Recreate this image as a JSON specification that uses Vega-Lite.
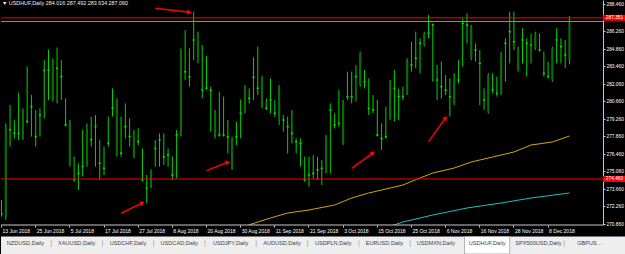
{
  "$schema": "https://vega.github.io/schema/vega-lite/v6.json",
  "padding": 0,
  "background": "#000000",
  "bounds": "flush",
  "spacing": 11.5,
  "resolve": {"scale": {"x": "independent", "y": "independent"}},
  "config": {
    "view": {"stroke": null},
    "font": "Liberation Sans",
    "axis": {"labelFont": "Liberation Sans", "labelColor": "#ffffff", "tickColor": "#c8c8c8", "domainColor": "#c8c8c8", "grid": false, "tickSize": 2, "labelPadding": 1, "labelOverlap": false}
  },
  "datasets": {
    "bars": [
      {"d":"13 Jun 2018","o":271.72,"h":272.78,"l":271.45,"c":271.6},
      {"d":"14 Jun 2018","o":271.45,"h":278.91,"l":271.18,"c":278.65},
      {"d":"15 Jun 2018","o":278.45,"h":280.38,"l":277.05,"c":278.33},
      {"d":"18 Jun 2018","o":278.2,"h":279.18,"l":277.71,"c":278.08},
      {"d":"19 Jun 2018","o":278.15,"h":281.37,"l":277.58,"c":278.03},
      {"d":"20 Jun 2018","o":277.71,"h":280.11,"l":277.58,"c":279.98},
      {"d":"21 Jun 2018","o":279.12,"h":283.45,"l":278.91,"c":279.0},
      {"d":"22 Jun 2018","o":280.3,"h":281.18,"l":277.85,"c":280.18},
      {"d":"25 Jun 2018","o":277.92,"h":279.98,"l":277.05,"c":277.8},
      {"d":"26 Jun 2018","o":279.62,"h":280.11,"l":277.85,"c":279.5},
      {"d":"27 Jun 2018","o":283.2,"h":283.98,"l":279.31,"c":283.08},
      {"d":"28 Jun 2018","o":283.25,"h":284.83,"l":280.78,"c":283.1},
      {"d":"29 Jun 2018","o":280.78,"h":284.11,"l":280.65,"c":283.98},
      {"d":"2 Jul 2018","o":283.37,"h":284.99,"l":280.51,"c":283.25},
      {"d":"3 Jul 2018","o":282.72,"h":283.98,"l":280.78,"c":282.6},
      {"d":"4 Jul 2018","o":278.87,"h":280.91,"l":278.65,"c":278.75},
      {"d":"5 Jul 2018","o":275.6,"h":279.18,"l":275.45,"c":279.05},
      {"d":"6 Jul 2018","o":274.45,"h":276.25,"l":274.25,"c":274.33},
      {"d":"9 Jul 2018","o":274.97,"h":275.71,"l":273.58,"c":274.85},
      {"d":"10 Jul 2018","o":275.52,"h":278.38,"l":274.65,"c":275.4},
      {"d":"11 Jul 2018","o":275.6,"h":278.91,"l":275.45,"c":278.51},
      {"d":"12 Jul 2018","o":277.67,"h":279.45,"l":277.05,"c":277.55},
      {"d":"13 Jul 2018","o":278.72,"h":279.58,"l":275.45,"c":278.6},
      {"d":"16 Jul 2018","o":275.78,"h":277.58,"l":274.38,"c":275.66},
      {"d":"17 Jul 2018","o":275.38,"h":277.05,"l":274.78,"c":275.26},
      {"d":"18 Jul 2018","o":277.38,"h":279.45,"l":277.05,"c":277.26},
      {"d":"19 Jul 2018","o":280.18,"h":281.71,"l":279.45,"c":280.06},
      {"d":"20 Jul 2018","o":276.38,"h":280.91,"l":276.25,"c":280.78},
      {"d":"23 Jul 2018","o":276.58,"h":279.45,"l":276.25,"c":276.46},
      {"d":"24 Jul 2018","o":278.72,"h":280.51,"l":277.71,"c":278.6},
      {"d":"25 Jul 2018","o":277.92,"h":279.31,"l":277.05,"c":277.8},
      {"d":"26 Jul 2018","o":276.25,"h":278.38,"l":276.11,"c":278.25},
      {"d":"27 Jul 2018","o":277.52,"h":278.51,"l":277.18,"c":277.4},
      {"d":"30 Jul 2018","o":274.45,"h":276.91,"l":274.25,"c":274.33},
      {"d":"31 Jul 2018","o":273.78,"h":274.78,"l":272.51,"c":273.66},
      {"d":"1 Aug 2018","o":273.8,"h":275.23,"l":273.71,"c":275.1},
      {"d":"2 Aug 2018","o":276.97,"h":277.58,"l":275.45,"c":276.85},
      {"d":"3 Aug 2018","o":277.64,"h":278.11,"l":275.45,"c":277.52},
      {"d":"6 Aug 2018","o":276.3,"h":278.11,"l":275.58,"c":276.18},
      {"d":"7 Aug 2018","o":276.44,"h":276.91,"l":275.45,"c":276.32},
      {"d":"8 Aug 2018","o":274.84,"h":276.25,"l":274.38,"c":274.72},
      {"d":"9 Aug 2018","o":278.04,"h":278.38,"l":274.51,"c":277.92},
      {"d":"10 Aug 2018","o":277.98,"h":284.91,"l":277.85,"c":284.7},
      {"d":"13 Aug 2018","o":283.1,"h":286.38,"l":282.38,"c":282.98},
      {"d":"14 Aug 2018","o":282.7,"h":284.91,"l":281.85,"c":282.58},
      {"d":"15 Aug 2018","o":285.64,"h":287.85,"l":283.98,"c":285.52},
      {"d":"16 Aug 2018","o":284.11,"h":286.25,"l":283.71,"c":286.11},
      {"d":"17 Aug 2018","o":281.64,"h":285.18,"l":280.91,"c":281.52},
      {"d":"20 Aug 2018","o":281.78,"h":284.3,"l":281.58,"c":281.66},
      {"d":"21 Aug 2018","o":281.62,"h":281.85,"l":278.25,"c":281.5},
      {"d":"22 Aug 2018","o":277.85,"h":279.98,"l":277.71,"c":279.9},
      {"d":"23 Aug 2018","o":278.04,"h":281.45,"l":277.85,"c":277.92},
      {"d":"24 Aug 2018","o":278.04,"h":281.05,"l":277.85,"c":277.92},
      {"d":"27 Aug 2018","o":277.9,"h":279.18,"l":276.51,"c":277.78},
      {"d":"28 Aug 2018","o":275.3,"h":277.85,"l":275.18,"c":277.7},
      {"d":"29 Aug 2018","o":277.9,"h":279.05,"l":277.18,"c":277.78},
      {"d":"30 Aug 2018","o":279.77,"h":280.83,"l":277.71,"c":279.65},
      {"d":"31 Aug 2018","o":279.8,"h":281.98,"l":279.71,"c":281.9},
      {"d":"3 Sep 2018","o":280.97,"h":281.71,"l":280.51,"c":280.85},
      {"d":"4 Sep 2018","o":282.66,"h":284.19,"l":280.78,"c":282.54},
      {"d":"5 Sep 2018","o":281.78,"h":285.05,"l":281.18,"c":281.66},
      {"d":"6 Sep 2018","o":280.25,"h":282.7,"l":280.11,"c":282.6},
      {"d":"7 Sep 2018","o":280.17,"h":280.91,"l":279.98,"c":280.05},
      {"d":"10 Sep 2018","o":280.84,"h":282.51,"l":279.71,"c":280.72},
      {"d":"11 Sep 2018","o":279.78,"h":280.78,"l":279.45,"c":279.66},
      {"d":"12 Sep 2018","o":279.31,"h":281.98,"l":278.78,"c":281.85},
      {"d":"13 Sep 2018","o":279.24,"h":279.58,"l":278.25,"c":279.12},
      {"d":"14 Sep 2018","o":278.71,"h":279.45,"l":276.51,"c":278.59},
      {"d":"17 Sep 2018","o":278.17,"h":279.98,"l":277.31,"c":278.05},
      {"d":"18 Sep 2018","o":277.51,"h":277.71,"l":276.51,"c":277.39},
      {"d":"19 Sep 2018","o":277.37,"h":277.71,"l":275.45,"c":277.25},
      {"d":"20 Sep 2018","o":274.44,"h":276.25,"l":274.25,"c":274.32},
      {"d":"21 Sep 2018","o":274.84,"h":276.25,"l":273.85,"c":274.72},
      {"d":"24 Sep 2018","o":274.97,"h":276.38,"l":274.51,"c":274.85},
      {"d":"25 Sep 2018","o":275.24,"h":276.25,"l":274.38,"c":275.12},
      {"d":"26 Sep 2018","o":275.37,"h":275.98,"l":273.98,"c":275.25},
      {"d":"27 Sep 2018","o":275.1,"h":277.98,"l":274.91,"c":277.85},
      {"d":"28 Sep 2018","o":280.04,"h":280.51,"l":274.91,"c":279.92},
      {"d":"1 Oct 2018","o":278.84,"h":279.71,"l":278.51,"c":278.72},
      {"d":"2 Oct 2018","o":278.97,"h":281.58,"l":278.65,"c":278.85},
      {"d":"3 Oct 2018","o":277.3,"h":280.78,"l":277.18,"c":280.65},
      {"d":"4 Oct 2018","o":281.1,"h":283.05,"l":280.78,"c":280.98},
      {"d":"5 Oct 2018","o":281.1,"h":283.05,"l":280.51,"c":280.98},
      {"d":"8 Oct 2018","o":282.71,"h":283.58,"l":280.65,"c":282.59},
      {"d":"9 Oct 2018","o":282.0,"h":284.65,"l":281.85,"c":284.55},
      {"d":"10 Oct 2018","o":282.31,"h":283.18,"l":281.71,"c":282.19},
      {"d":"11 Oct 2018","o":280.17,"h":282.51,"l":279.58,"c":280.05},
      {"d":"12 Oct 2018","o":280.04,"h":281.18,"l":279.71,"c":279.92},
      {"d":"15 Oct 2018","o":278.04,"h":280.78,"l":277.85,"c":277.92},
      {"d":"16 Oct 2018","o":277.77,"h":278.91,"l":276.78,"c":277.65},
      {"d":"17 Oct 2018","o":277.9,"h":280.25,"l":277.71,"c":277.78},
      {"d":"18 Oct 2018","o":279.3,"h":282.38,"l":279.18,"c":282.25},
      {"d":"19 Oct 2018","o":281.77,"h":283.18,"l":279.05,"c":281.65},
      {"d":"22 Oct 2018","o":281.11,"h":281.71,"l":279.18,"c":280.99},
      {"d":"23 Oct 2018","o":281.11,"h":281.85,"l":280.78,"c":280.99},
      {"d":"24 Oct 2018","o":281.3,"h":284.11,"l":281.18,"c":283.98},
      {"d":"25 Oct 2018","o":283.64,"h":285.45,"l":283.05,"c":283.52},
      {"d":"26 Oct 2018","o":284.17,"h":286.25,"l":283.31,"c":284.05},
      {"d":"29 Oct 2018","o":285.37,"h":285.71,"l":282.91,"c":285.25},
      {"d":"30 Oct 2018","o":285.15,"h":286.25,"l":285.05,"c":286.1},
      {"d":"31 Oct 2018","o":286.17,"h":287.58,"l":285.71,"c":286.05},
      {"d":"1 Nov 2018","o":286.84,"h":286.91,"l":282.25,"c":286.72},
      {"d":"2 Nov 2018","o":282.44,"h":283.58,"l":280.78,"c":282.32},
      {"d":"5 Nov 2018","o":281.91,"h":283.85,"l":280.91,"c":281.79},
      {"d":"6 Nov 2018","o":281.64,"h":282.78,"l":281.18,"c":281.52},
      {"d":"7 Nov 2018","o":281.11,"h":282.51,"l":279.45,"c":280.99},
      {"d":"8 Nov 2018","o":280.5,"h":282.91,"l":280.38,"c":282.25},
      {"d":"9 Nov 2018","o":282.44,"h":283.98,"l":282.11,"c":282.32},
      {"d":"12 Nov 2018","o":286.97,"h":287.31,"l":283.45,"c":286.85},
      {"d":"13 Nov 2018","o":286.84,"h":287.71,"l":285.31,"c":286.72},
      {"d":"14 Nov 2018","o":284.1,"h":286.78,"l":283.98,"c":286.65},
      {"d":"15 Nov 2018","o":284.84,"h":285.31,"l":283.85,"c":284.72},
      {"d":"16 Nov 2018","o":283.77,"h":284.78,"l":280.38,"c":283.65},
      {"d":"19 Nov 2018","o":280.84,"h":281.71,"l":279.98,"c":280.72},
      {"d":"20 Nov 2018","o":279.85,"h":282.91,"l":279.71,"c":282.8},
      {"d":"21 Nov 2018","o":281.64,"h":282.91,"l":281.31,"c":281.52},
      {"d":"22 Nov 2018","o":281.37,"h":282.65,"l":281.05,"c":281.25},
      {"d":"23 Nov 2018","o":281.3,"h":284.65,"l":281.18,"c":284.55},
      {"d":"26 Nov 2018","o":285.37,"h":285.71,"l":282.25,"c":285.25},
      {"d":"27 Nov 2018","o":286.31,"h":287.85,"l":283.71,"c":286.19},
      {"d":"28 Nov 2018","o":285.51,"h":287.85,"l":284.78,"c":285.39},
      {"d":"29 Nov 2018","o":283.18,"h":285.05,"l":283.05,"c":284.95},
      {"d":"30 Nov 2018","o":285.64,"h":286.51,"l":283.71,"c":285.52},
      {"d":"3 Dec 2018","o":285.37,"h":285.71,"l":282.65,"c":285.25},
      {"d":"4 Dec 2018","o":285.24,"h":286.11,"l":283.71,"c":285.12},
      {"d":"5 Dec 2018","o":284.9,"h":286.25,"l":284.78,"c":286.1},
      {"d":"6 Dec 2018","o":284.84,"h":286.11,"l":284.65,"c":284.72},
      {"d":"7 Dec 2018","o":282.97,"h":284.65,"l":282.65,"c":282.85},
      {"d":"8 Dec 2018","o":282.71,"h":283.85,"l":282.51,"c":282.59},
      {"d":"10 Dec 2018","o":282.4,"h":285.05,"l":282.25,"c":284.95},
      {"d":"11 Dec 2018","o":285.64,"h":286.51,"l":283.71,"c":285.52},
      {"d":"12 Dec 2018","o":285.11,"h":285.71,"l":283.71,"c":284.99},
      {"d":"13 Dec 2018","o":284.44,"h":285.58,"l":283.31,"c":284.32},
      {"d":"14 Dec 2018","o":284.016,"h":287.492,"l":283.634,"c":287.06}
    ],
    "ma": [
      {"d":"31 Aug 2018","s":"MA1","v":270.6},
      {"d":"3 Sep 2018","s":"MA1","v":270.8},
      {"d":"10 Sep 2018","s":"MA1","v":271.34},
      {"d":"14 Sep 2018","s":"MA1","v":271.74},
      {"d":"21 Sep 2018","s":"MA1","v":271.98},
      {"d":"1 Oct 2018","s":"MA1","v":272.38},
      {"d":"5 Oct 2018","s":"MA1","v":272.94},
      {"d":"11 Oct 2018","s":"MA1","v":273.34},
      {"d":"18 Oct 2018","s":"MA1","v":273.74},
      {"d":"23 Oct 2018","s":"MA1","v":273.98},
      {"d":"29 Oct 2018","s":"MA1","v":274.54},
      {"d":"1 Nov 2018","s":"MA1","v":274.94},
      {"d":"8 Nov 2018","s":"MA1","v":275.34},
      {"d":"14 Nov 2018","s":"MA1","v":275.82},
      {"d":"21 Nov 2018","s":"MA1","v":276.22},
      {"d":"28 Nov 2018","s":"MA1","v":276.62},
      {"d":"4 Dec 2018","s":"MA1","v":277.18},
      {"d":"10 Dec 2018","s":"MA1","v":277.42},
      {"d":"14 Dec 2018","s":"MA1","v":277.9},
      {"d":"17 Oct 2018","s":"MA2","v":270.55},
      {"d":"18 Oct 2018","s":"MA2","v":270.68},
      {"d":"23 Oct 2018","s":"MA2","v":271.02},
      {"d":"1 Nov 2018","s":"MA2","v":271.58},
      {"d":"13 Nov 2018","s":"MA2","v":272.14},
      {"d":"23 Nov 2018","s":"MA2","v":272.54},
      {"d":"4 Dec 2018","s":"MA2","v":272.94},
      {"d":"14 Dec 2018","s":"MA2","v":273.34}
    ],
    "levels": [
      {"p": 287.351, "k": "red"},
      {"p": 274.46, "k": "red"},
      {"p": 287.06, "k": "bid"}
    ],
    "arrows": [
      {"d1":"2 Aug 2018","p1":288.12,"d2":"14 Aug 2018","p2":287.8,"n":8},
      {"d1":"23 Jul 2018","p1":271.72,"d2":"30 Jul 2018","p2":272.55,"n":5},
      {"d1":"20 Aug 2018","p1":275.13,"d2":"27 Aug 2018","p2":275.8,"n":5},
      {"d1":"5 Oct 2018","p1":275.31,"d2":"12 Oct 2018","p2":276.55,"n":5},
      {"d1":"31 Oct 2018","p1":277.45,"d2":"6 Nov 2018","p2":279.35,"n":4}
    ],
    "tabs": [
      {"tab":"NZDUSD,Daily"},{"tab":"XAUUSD,Daily"},{"tab":"USDCHF,Daily"},{"tab":"USDCAD,Daily"},
      {"tab":"USDJPY,Daily"},{"tab":"AUDUSD,Daily"},{"tab":"USDPLN,Daily"},{"tab":"EURUSD,Daily"},
      {"tab":"USDMXN,Daily"},{"tab":"USDHUF,Daily","active":true},{"tab":"SPX500USD,Daily"},{"tab":"GBPUSD,Daily"}
    ]
  },
  "vconcat": [
    {
      "width": 602,
      "height": 225,
      "view": {"fill": "#000000", "stroke": null},
      "title": {"text": "▼  USDHUF,Daily  284.016 287.492 283.634 287.060", "anchor": "start", "frame": "group", "orient": "top", "offset": -6.5, "dx": 1, "color": "#f0f0f0", "fontSize": 5.4, "fontWeight": "normal", "font": "Liberation Sans"},
      "layer": [
        {
          "data": {"name": "bars"},
          "mark": {"type": "rule", "color": "#00d400", "strokeWidth": 1, "clip": true},
          "encoding": {
            "x": {"field": "d", "type": "ordinal", "sort": null, "title": null,
              "scale": {"type": "band", "range": [-1.6, 570.6], "paddingInner": 0, "paddingOuter": 0,
                "domain": ["13 Jun 2018","14 Jun 2018","15 Jun 2018","18 Jun 2018","19 Jun 2018","20 Jun 2018","21 Jun 2018","22 Jun 2018","25 Jun 2018","26 Jun 2018","27 Jun 2018","28 Jun 2018","29 Jun 2018","2 Jul 2018","3 Jul 2018","4 Jul 2018","5 Jul 2018","6 Jul 2018","9 Jul 2018","10 Jul 2018","11 Jul 2018","12 Jul 2018","13 Jul 2018","16 Jul 2018","17 Jul 2018","18 Jul 2018","19 Jul 2018","20 Jul 2018","23 Jul 2018","24 Jul 2018","25 Jul 2018","26 Jul 2018","27 Jul 2018","30 Jul 2018","31 Jul 2018","1 Aug 2018","2 Aug 2018","3 Aug 2018","6 Aug 2018","7 Aug 2018","8 Aug 2018","9 Aug 2018","10 Aug 2018","13 Aug 2018","14 Aug 2018","15 Aug 2018","16 Aug 2018","17 Aug 2018","20 Aug 2018","21 Aug 2018","22 Aug 2018","23 Aug 2018","24 Aug 2018","27 Aug 2018","28 Aug 2018","29 Aug 2018","30 Aug 2018","31 Aug 2018","3 Sep 2018","4 Sep 2018","5 Sep 2018","6 Sep 2018","7 Sep 2018","10 Sep 2018","11 Sep 2018","12 Sep 2018","13 Sep 2018","14 Sep 2018","17 Sep 2018","18 Sep 2018","19 Sep 2018","20 Sep 2018","21 Sep 2018","24 Sep 2018","25 Sep 2018","26 Sep 2018","27 Sep 2018","28 Sep 2018","1 Oct 2018","2 Oct 2018","3 Oct 2018","4 Oct 2018","5 Oct 2018","8 Oct 2018","9 Oct 2018","10 Oct 2018","11 Oct 2018","12 Oct 2018","15 Oct 2018","16 Oct 2018","17 Oct 2018","18 Oct 2018","19 Oct 2018","22 Oct 2018","23 Oct 2018","24 Oct 2018","25 Oct 2018","26 Oct 2018","29 Oct 2018","30 Oct 2018","31 Oct 2018","1 Nov 2018","2 Nov 2018","5 Nov 2018","6 Nov 2018","7 Nov 2018","8 Nov 2018","9 Nov 2018","12 Nov 2018","13 Nov 2018","14 Nov 2018","15 Nov 2018","16 Nov 2018","19 Nov 2018","20 Nov 2018","21 Nov 2018","22 Nov 2018","23 Nov 2018","26 Nov 2018","27 Nov 2018","28 Nov 2018","29 Nov 2018","30 Nov 2018","3 Dec 2018","4 Dec 2018","5 Dec 2018","6 Dec 2018","7 Dec 2018","8 Dec 2018","10 Dec 2018","11 Dec 2018","12 Dec 2018","13 Dec 2018","14 Dec 2018"]},
              "axis": {"values": ["13 Jun 2018","25 Jun 2018","5 Jul 2018","17 Jul 2018","27 Jul 2018","8 Aug 2018","20 Aug 2018","30 Aug 2018","11 Sep 2018","21 Sep 2018","3 Oct 2018","15 Oct 2018","25 Oct 2018","6 Nov 2018","16 Nov 2018","28 Nov 2018","8 Dec 2018"],
                "labelAlign": "left", "labelAngle": 0, "labelOffset": 1, "labelFontSize": 5, "labelOverlap": false, "labelBound": false, "labelFlush": false, "domain": false}},
            "y": {"field": "l", "type": "quantitative", "title": null,
              "scale": {"domain": [270.78, 288.78], "nice": false, "zero": false},
              "axis": {"orient": "right", "values": [270.86, 272.26, 273.66, 275.06, 276.46, 277.86, 279.26, 280.66, 282.06, 283.46, 284.86, 286.26, 288.46], "tickCount": 40, "format": ".3f", "labelFontSize": 4.8, "labelOverlap": false, "labelBound": false, "labelFlush": false, "domain": true}},
            "y2": {"field": "h"}
          }
        },
        {
          "data": {"name": "bars"},
          "mark": {"type": "bar", "width": 2.2, "clip": true},
          "encoding": {
            "x": {"field": "d", "type": "ordinal", "sort": null, "title": null},
            "y": {"field": "o", "type": "quantitative", "title": null},
            "y2": {"field": "c"},
            "color": {"condition": {"test": "datum.c > datum.o", "value": "#0d680d"}, "value": "#00dc00"}
          }
        },
        {
          "data": {"name": "ma"},
          "mark": {"type": "line", "strokeWidth": 1, "clip": true},
          "encoding": {
            "x": {"field": "d", "type": "ordinal", "sort": null, "title": null},
            "y": {"field": "v", "type": "quantitative", "title": null},
            "detail": {"field": "s"},
            "color": {"condition": {"test": "datum.s === 'MA1'", "value": "#d2a800"}, "value": "#20c0c0"}
          }
        },
        {
          "data": {"name": "levels"},
          "mark": {"type": "rule", "strokeWidth": 1},
          "encoding": {
            "y": {"field": "p", "type": "quantitative", "title": null},
            "color": {"condition": {"test": "datum.k === 'red'", "value": "#ff0000"}, "value": "#8a8a8a"}
          }
        },
        {
          "data": {"values": [{"edge": "bottom"}]},
          "mark": {"type": "rule", "color": "#c8c8c8", "strokeWidth": 1},
          "encoding": {"y": {"datum": 270.78}}
        },
        {
          "data": {"name": "arrows"},
          "mark": {"type": "rule", "color": "#ff0000", "strokeWidth": 1.5, "clip": true},
          "encoding": {
            "x": {"field": "d1", "type": "ordinal", "sort": null, "title": null},
            "x2": {"field": "d2"},
            "y": {"field": "p1", "type": "quantitative", "title": null},
            "y2": {"field": "p2"}
          }
        },
        {
          "data": {"name": "arrows"},
          "transform": [{"calculate": "atan2(datum.n * 4.27, (datum.p2 - datum.p1) * 12.5) * 180 / PI", "as": "angle"}],
          "mark": {"type": "point", "shape": "triangle-up", "filled": true, "color": "#ff0000", "size": 28, "opacity": 1, "clip": true},
          "encoding": {
            "x": {"field": "d2", "type": "ordinal", "sort": null, "title": null},
            "y": {"field": "p2", "type": "quantitative", "title": null},
            "angle": {"field": "angle", "type": "quantitative", "scale": null}
          }
        },
        {
          "data": {"name": "levels"},
          "transform": [{"filter": "datum.k === 'red'"}],
          "mark": {"type": "rect", "color": "#ff0000", "x2Offset": 23, "yOffset": -3, "y2Offset": 3},
          "encoding": {
            "x": {"value": "width"},
            "x2": {"value": "width"},
            "y": {"field": "p", "type": "quantitative", "title": null},
            "y2": {"field": "p"}
          }
        },
        {
          "data": {"name": "levels"},
          "transform": [{"filter": "datum.k === 'red'"}],
          "mark": {"type": "text", "color": "#ffffff", "fontSize": 4.8, "dx": 11.5, "align": "center", "baseline": "middle", "font": "Liberation Sans"},
          "encoding": {
            "x": {"value": "width"},
            "y": {"field": "p", "type": "quantitative", "title": null},
            "text": {"field": "p", "format": ".3f"}
          }
        }
      ]
    },
    {
      "width": 625,
      "height": 17.5,
      "view": {"fill": "#eeeeee", "stroke": null},
      "data": {"name": "tabs"},
      "layer": [
        {
          "transform": [{"filter": "datum.active === true"}],
          "mark": {"type": "bar", "fill": "#ffffff", "stroke": "#a0a0a0", "strokeWidth": 0.8, "width": {"band": 0.88}},
          "encoding": {
            "x": {"field": "tab", "type": "nominal", "sort": null, "axis": null,
              "scale": {"type": "band", "range": [-1.2, 614.4], "paddingInner": 0, "paddingOuter": 0,
                "domain": ["NZDUSD,Daily","XAUUSD,Daily","USDCHF,Daily","USDCAD,Daily","USDJPY,Daily","AUDUSD,Daily","USDPLN,Daily","EURUSD,Daily","USDMXN,Daily","USDHUF,Daily","SPX500USD,Daily","GBPUSD,Daily"]}}
          }
        },
        {
          "mark": {"type": "text", "fontSize": 5.6, "color": "#404040", "dy": -2, "baseline": "middle", "font": "Liberation Sans", "ellipsis": "", "limit": {"expr": "datum.tab === 'GBPUSD,Daily' ? 27 : 1000"}},
          "encoding": {
            "x": {"field": "tab", "type": "nominal", "sort": null, "axis": null},
            "text": {"field": "tab"}
          }
        },
        {
          "transform": [{"filter": "datum.tab !== 'USDMXN,Daily' && datum.tab !== 'USDHUF,Daily' && datum.tab !== 'GBPUSD,Daily'"}],
          "mark": {"type": "text", "text": "|", "fontSize": 7, "color": "#9a9a9a", "dx": 25.6, "dy": -2, "baseline": "middle"},
          "encoding": {
            "x": {"field": "tab", "type": "nominal", "sort": null, "axis": null}
          }
        }
      ]
    }
  ]
}
